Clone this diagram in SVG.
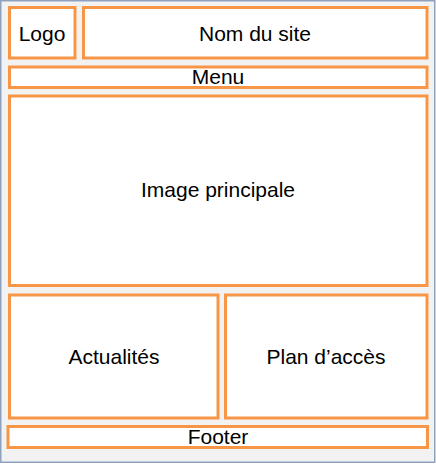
<svg xmlns="http://www.w3.org/2000/svg" width="436" height="466" viewBox="0 0 436 466">
<style>
.box{fill:#ffffff;stroke:#f79646;stroke-width:3}
.t{font-family:"Liberation Sans",Arial,sans-serif;font-size:21px;fill:#000;text-anchor:middle}
</style>
<rect x="0" y="0" width="436" height="466" fill="#ffffff"/>
<rect x="0.75" y="0.75" width="434" height="461.5" fill="#f2f2f2" stroke="#8ea2c0" stroke-width="1.5"/>
<g id="logo"><rect class="box" x="9.5" y="7.5" width="65.5" height="50.5"/><text class="t" x="42" y="41">Logo</text></g>
<g id="nom"><rect class="box" x="83.5" y="7.5" width="343.5" height="50.5"/><text class="t" x="255" y="41">Nom du site</text></g>
<g id="menu"><rect class="box" x="9.5" y="67" width="417.5" height="20.5"/><text class="t" x="218" y="84">Menu</text></g>
<g id="image"><rect class="box" x="9.5" y="96" width="417.5" height="189.5"/><text class="t" x="218" y="197">Image principale</text></g>
<g id="actualites"><rect class="box" x="9.5" y="295" width="208.5" height="123"/><text class="t" x="114" y="364">Actualités</text></g>
<g id="plan"><rect class="box" x="225.5" y="295" width="201.5" height="123"/><text class="t" x="326" y="364">Plan d’accès</text></g>
<g id="footer"><rect class="box" x="8" y="426.5" width="419.5" height="21"/><text class="t" x="218" y="444">Footer</text></g>
<g id="connectors"></g>
</svg>
